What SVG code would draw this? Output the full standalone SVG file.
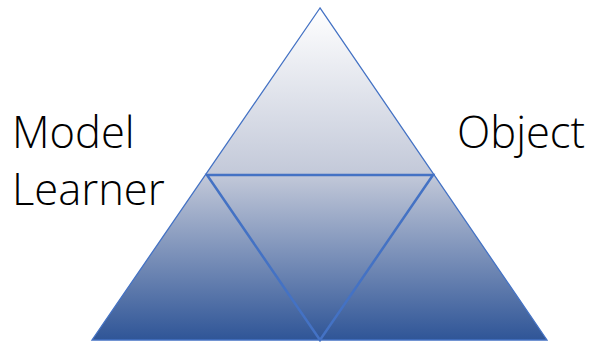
<svg xmlns="http://www.w3.org/2000/svg" width="590" height="343" viewBox="0 0 590 343">
<style>
.lbl{font-family:"Open Sans","Liberation Sans",sans-serif;font-weight:300;font-size:43.5px;fill:#000}
.edge{stroke:#4472C4;stroke-linejoin:miter}
.outer{fill:url(#g)}
.inner{fill:none}
</style>
<defs>
<linearGradient id="g" x1="0" y1="8" x2="0" y2="340" gradientUnits="userSpaceOnUse">
<stop offset="0" stop-color="#FFFFFF"/>
<stop offset="0.5" stop-color="#C3C9D9"/>
<stop offset="1" stop-color="#2F5597"/>
</linearGradient>
</defs>
<rect width="590" height="343" fill="#fff"/>
<g id="outer">
<polygon points="320,8 92,340 547,340" class="edge outer" stroke-width="1.3"/>
</g>
<g id="inner">
<polygon points="207,175 433,175 320,340" class="edge inner" stroke-width="2.5"/>
</g>
<g id="labels">
<text class="lbl" x="12" y="148">Model</text>
<text class="lbl" x="12" y="205">Learner</text>
<text class="lbl" x="457" y="148">Object</text>
</g>
</svg>
